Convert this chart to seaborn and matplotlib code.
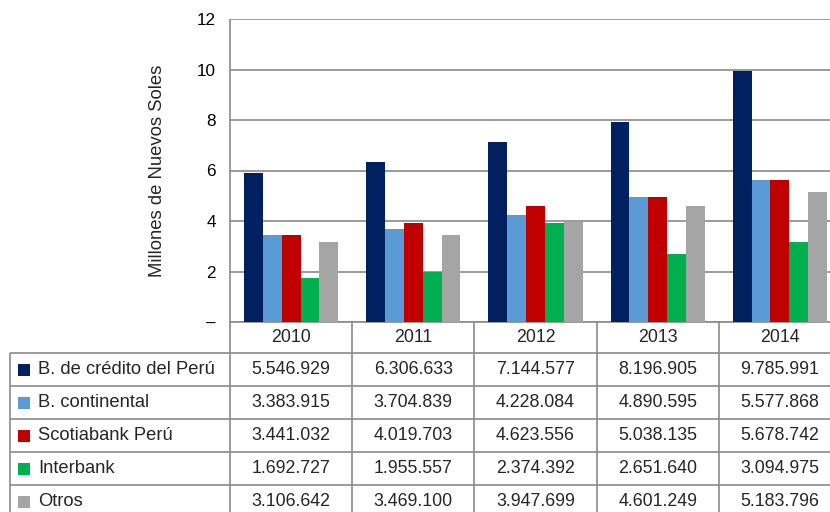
"""
Colocaciones por banco 2010-2014: barras agrupadas con tabla de datos debajo
"""

import matplotlib
matplotlib.use("Agg")
import matplotlib.pyplot as plt
import seaborn as sns
import pandas as pd
from matplotlib.patches import Rectangle

# Data
years = ['2010', '2011', '2012', '2013', '2014']
banks = ['B. de crédito del Perú', 'B. continental', 'Scotiabank Perú', 'Interbank', 'Otros']
colors = ['#002060', '#5B9BD5', '#C00000', '#00B050', '#A5A5A5']

# bar heights as drawn in the chart (millones)
bcp_bars = [5.92, 6.32, 7.13, 7.92, 9.96]
continental_bars = [3.45, 3.68, 4.24, 4.95, 5.62]
scotiabank_bars = [3.45, 3.92, 4.59, 4.95, 5.62]
interbank_bars = [1.76, 1.98, 3.92, 2.69, 3.17]
otros_bars = [3.17, 3.45, 3.96, 4.59, 5.15]

# values printed in the data table
bcp_txt = ['5.546.929', '6.306.633', '7.144.577', '8.196.905', '9.785.991']
continental_txt = ['3.383.915', '3.704.839', '4.228.084', '4.890.595', '5.577.868']
scotiabank_txt = ['3.441.032', '4.019.703', '4.623.556', '5.038.135', '5.678.742']
interbank_txt = ['1.692.727', '1.955.557', '2.374.392', '2.651.640', '3.094.975']
otros_txt = ['3.106.642', '3.469.100', '3.947.699', '4.601.249', '5.183.796']

ytick_vals = [0, 2, 4, 6, 8, 10, 12]
ytick_labels = ['–', '2', '4', '6', '8', '10', '12']
ylabel = 'Millones de Nuevos Soles'

bar_series = [bcp_bars, continental_bars, scotiabank_bars, interbank_bars, otros_bars]
txt_series = [bcp_txt, continental_txt, scotiabank_txt, interbank_txt, otros_txt]

df = pd.DataFrame(
    [(y, b, v) for b, vals in zip(banks, bar_series) for y, v in zip(years, vals)],
    columns=['year', 'bank', 'value'],
)

sns.set_style('white')
plt.rcParams['font.family'] = ['Liberation Sans', 'DejaVu Sans']

W, H = 830, 512
fig = plt.figure(figsize=(W / 100, H / 100), dpi=100)
fig.patch.set_facecolor('white')

# layout in pixels
ax_left, ax_right, ax_top, ax_bottom = 230, 841, 19, 322
grid_col = '#8a8a8a'

ax = fig.add_axes([ax_left / W, (H - ax_bottom) / H,
                   (ax_right - ax_left) / W, (ax_bottom - ax_top) / H])
sns.barplot(data=df, x='year', y='value', hue='bank', hue_order=banks,
            palette=colors, width=0.77, gap=0, saturation=1,
            linewidth=0, legend=False, ax=ax, zorder=3)

ax.set_xlim(-0.5, 4.5)
ax.set_ylim(0, 12)
ax.set_yticks(ytick_vals)
ax.set_yticklabels(ytick_labels, fontsize=12.3)
ax.set_xticks([])
ax.set_xlabel('')
ax.set_ylabel(ylabel, fontsize=13.3)
ax.yaxis.set_label_coords((166 - ax_left) / (ax_right - ax_left), 0.5)
ax.tick_params(axis='y', length=0, pad=10, colors='black')
ax.yaxis.grid(True, color=grid_col, linewidth=1.2, zorder=0)
ax.set_axisbelow(True)
for s in ['top', 'right', 'left']:
    ax.spines[s].set_visible(False)
ax.spines['bottom'].set_color(grid_col)
ax.spines['bottom'].set_linewidth(1.2)

# data table drawn in pixel coordinates
tb = fig.add_axes([0, 0, 1, 1], facecolor='none')
tb.set_xlim(0, W)
tb.set_ylim(H, 0)
tb.axis('off')

col_w = (ax_right - ax_left) / len(years)
head_bot = 353
row_h = 33
tbl_left = 10
lw = 1.2

def hline(y, x0, x1):
    tb.plot([x0, x1], [y, y], color=grid_col, linewidth=lw, solid_capstyle='butt')

def vline(x, y0, y1):
    tb.plot([x, x], [y0, y1], color=grid_col, linewidth=lw, solid_capstyle='butt')

# vertical lines
vline(ax_left, ax_top, H + 5)
vline(tbl_left, head_bot, H + 5)
for i in range(1, len(years) + 1):
    vline(ax_left + i * col_w, ax_bottom, H + 5)

# horizontal lines
for r in range(len(banks) + 1):
    hline(head_bot + r * row_h, tbl_left, ax_right)

# header row
for i, y in enumerate(years):
    tb.text(ax_left + (i + 0.5) * col_w, (ax_bottom + head_bot) / 2, y,
            ha='center', va='center', fontsize=12.8)

# body rows
for r, (bank, col, vals) in enumerate(zip(banks, colors, txt_series)):
    yc = head_bot + (r + 0.5) * row_h
    tb.add_patch(Rectangle((18, yc - 6), 12, 12, facecolor=col, edgecolor='none'))
    tb.text(38, yc, bank, ha='left', va='center', fontsize=13.2)
    for i, v in enumerate(vals):
        tb.text(ax_left + (i + 0.5) * col_w, yc, v,
                ha='center', va='center', fontsize=12.8)

fig.savefig('out.png', dpi=100, facecolor='white')
